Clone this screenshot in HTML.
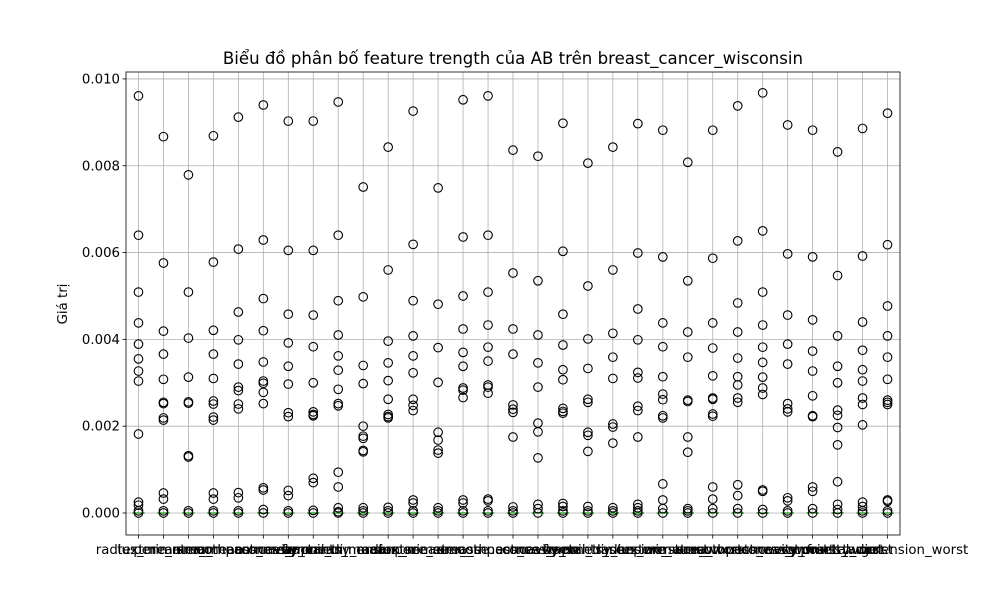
<!DOCTYPE html>
<html><head><meta charset="utf-8"><style>
body{margin:0;background:#fff;}
svg{display:block;font-family:"DejaVu Sans","Liberation Sans",sans-serif;}
</style></head><body>
<svg id="chart" width="1000" height="600"></svg>
<script>
const categories=["radius_mean","texture_mean","perimeter_mean","area_mean","smoothness_mean","compactness_mean","concavity_mean","concave points_mean","symmetry_mean","fractal_dimension_mean","radius_se","texture_se","perimeter_se","area_se","smoothness_se","compactness_se","concavity_se","concave points_se","symmetry_se","fractal_dimension_se","radius_worst","texture_worst","perimeter_worst","area_worst","smoothness_worst","compactness_worst","concavity_worst","concave points_worst","symmetry_worst","target","fractal_dimension_worst"];
const medians=[0,0,0,0,0,0,0,0,0,0,0,0,0,0,0,0,0,0,0,0,0,0,0,0,0,0,0,0,0,0,0];
const outliers=[
[9.61,6.40,5.09,4.38,3.89,3.55,3.27,3.04,1.82,0.25,0.18,0.05,0],
[8.67,5.76,4.19,3.66,3.08,2.55,2.52,2.19,2.14,0.46,0.32,0.05,0],
[7.79,5.09,4.03,3.13,2.56,2.53,1.32,1.29,0.05,0],
[8.69,5.78,4.21,3.66,3.10,2.58,2.51,2.21,2.14,0.46,0.32,0.05,0],
[9.12,6.08,4.63,3.99,3.43,2.90,2.82,2.51,2.40,0.47,0.35,0.05,0],
[9.40,6.29,4.94,4.20,3.48,3.04,2.99,2.78,2.52,0.58,0.53,0.08,0],
[9.03,6.05,4.58,3.92,3.38,2.97,2.31,2.22,0.52,0.40,0.05,0],
[9.03,6.05,4.56,3.83,3.00,2.33,2.27,2.24,0.80,0.70,0.06,0],
[9.47,6.40,4.89,4.10,3.62,3.29,2.85,2.52,2.47,0.94,0.60,0.12,0.03,0],
[7.51,4.98,3.40,2.98,2.00,1.77,1.72,1.44,1.41,0.12,0.05,0],
[8.43,5.60,3.96,3.46,3.05,2.62,2.27,2.22,2.19,0.13,0.05,0],
[9.26,6.19,4.89,4.08,3.62,3.23,2.62,2.48,2.36,0.30,0.23,0.05,0],
[7.49,4.81,3.81,3.01,1.86,1.68,1.45,1.38,0.12,0.05,0],
[9.52,6.36,5.00,4.24,3.70,3.38,2.88,2.83,2.66,0.30,0.23,0.05,0],
[9.61,6.40,5.09,4.33,3.82,3.50,2.95,2.90,2.76,0.32,0.28,0.05,0],
[8.36,5.53,4.24,3.66,2.49,2.39,2.32,1.75,0.14,0.05,0],
[8.22,5.35,4.10,3.46,2.90,2.07,1.87,1.27,0.20,0.10,0],
[8.98,6.03,4.58,3.87,3.30,3.07,2.41,2.34,2.30,0.22,0.15,0.05,0],
[8.06,5.23,4.01,3.33,2.62,2.55,1.86,1.79,1.42,0.15,0.05,0],
[8.43,5.60,4.14,3.59,3.10,2.05,1.98,1.61,0.12,0.05,0],
[8.97,5.99,4.70,3.99,3.24,3.11,2.46,2.36,1.75,0.20,0.12,0.05,0],
[8.82,5.90,4.38,3.83,3.14,2.74,2.61,2.24,2.19,0.67,0.30,0.10,0],
[8.08,5.35,4.17,3.59,2.60,2.57,1.75,1.40,0.10,0.05,0],
[8.82,5.87,4.38,3.80,3.16,2.65,2.62,2.28,2.23,0.60,0.32,0.10,0],
[9.38,6.27,4.84,4.17,3.57,3.14,2.95,2.65,2.55,0.65,0.40,0.10,0],
[9.68,6.50,5.09,4.33,3.82,3.47,3.13,2.88,2.73,0.53,0.50,0.08,0],
[8.94,5.97,4.56,3.89,3.43,2.52,2.40,2.33,0.35,0.28,0.05,0],
[8.82,5.90,4.45,3.73,3.27,2.70,2.24,2.22,0.60,0.50,0.10,0],
[8.32,5.47,4.08,3.38,3.00,2.37,2.25,1.97,1.57,0.72,0.20,0.08,0],
[8.86,5.92,4.40,3.75,3.30,3.04,2.65,2.50,2.03,0.25,0.15,0.05,0],
[9.21,6.18,4.77,4.08,3.59,3.08,2.60,2.55,2.50,0.30,0.27,0.05,0]
];
const yTicks=[0,0.002,0.004,0.006,0.008,0.010];
const yTickLabels=["0.000","0.002","0.004","0.006","0.008","0.010"];

const NS="http://www.w3.org/2000/svg";
const svg=document.getElementById('chart');
const L=126,R=900,T=72,B=535;
const yMin=-0.000507,yMax=0.01016;
const n=categories.length;
function xs(i){return L+(i+0.5)*(R-L)/n;}
function ys(v){return B-(v-yMin)/(yMax-yMin)*(B-T);}
function mk(tag,attrs,parent){const e=document.createElementNS(NS,tag);for(const k in attrs)e.setAttribute(k,attrs[k]);(parent||svg).appendChild(e);return e;}

const grid=mk('g',{});


for(let i=0;i<n;i++){mk('line',{x1:xs(i),x2:xs(i),y1:T,y2:B,stroke:'#b0b0b0','stroke-width':0.8},grid);}
yTicks.forEach((t,k)=>{
  const y=ys(t);
  mk('line',{x1:L,x2:R,y1:y,y2:y,stroke:'#b0b0b0','stroke-width':0.8},grid);
  mk('line',{x1:L-3.5,x2:L,y1:y,y2:y,stroke:'#000','stroke-width':0.8});
  const tx=mk('text',{x:L-6,y:y+4.5,'text-anchor':'end','font-size':13.3,fill:'#000'});
  tx.textContent=yTickLabels[k];
  
  
});
for(let i=0;i<n;i++){
  const g=mk('g',{});
  
  
  const x=xs(i);
  mk('line',{x1:x-6.2,x2:x+6.2,y1:ys(medians[i]),y2:ys(medians[i]),stroke:'#2ca02c','stroke-width':1.4},g);
  outliers[i].forEach(v=>{
    const c=mk('circle',{cx:x,cy:ys(v*1e-3),r:4.3,fill:'none',stroke:'#000','stroke-width':1.1},g);
    
    
  });
  mk('line',{x1:x,x2:x,y1:B,y2:B+3.5,stroke:'#000','stroke-width':0.8});
  const tl=mk('text',{x:x,y:B+19,'text-anchor':'middle','font-size':13.3,fill:'#000'});
  tl.textContent=categories[i];
  
  
}
const frame=mk('rect',{x:L,y:T,width:R-L,height:B-T,fill:'none',stroke:'#000','stroke-width':0.8});


const title=mk('text',{x:(L+R)/2,y:64,'text-anchor':'middle','font-size':16.6,fill:'#000'});
title.textContent='Biểu đồ phân bố feature trength của AB trên breast_cancer_wisconsin';


const yl=mk('text',{x:0,y:0,'text-anchor':'middle','font-size':13.3,fill:'#000',transform:'translate(67,304) rotate(-90)'});
yl.textContent='Giá trị';


</script>
</body></html>
